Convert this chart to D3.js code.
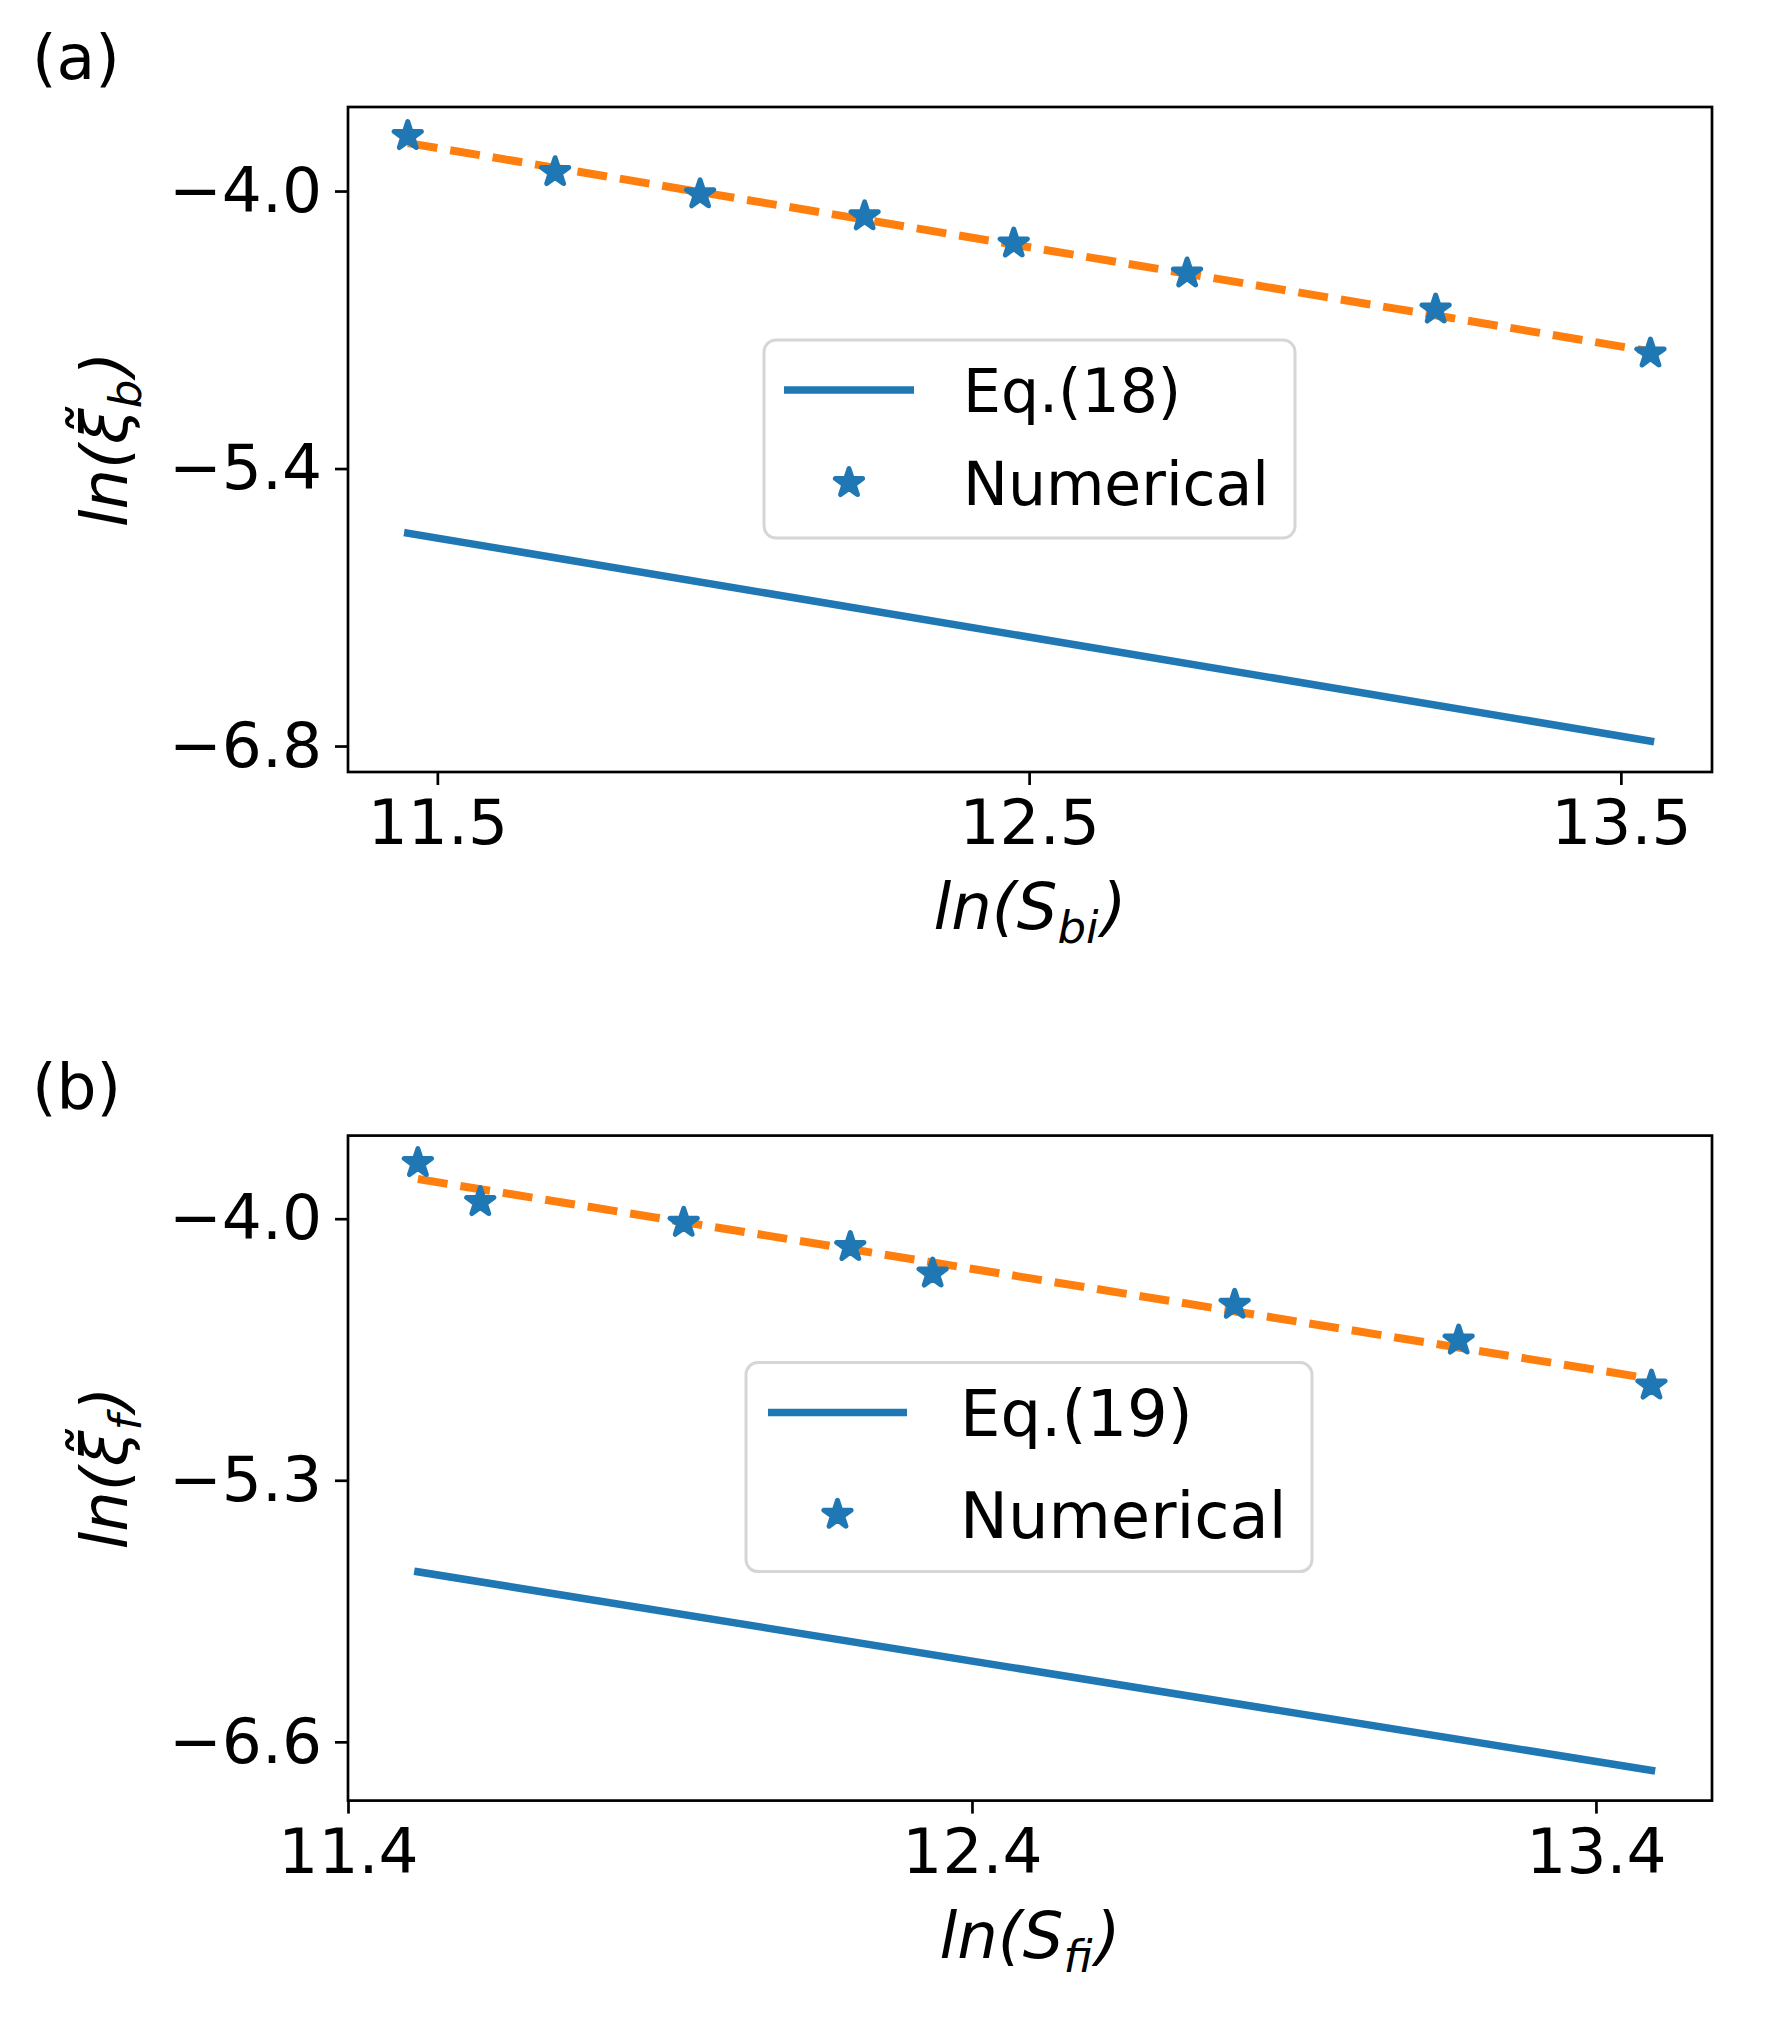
<!DOCTYPE html>
<html>
<head>
<meta charset="utf-8">
<script src="https://cdn.jsdelivr.net/npm/d3@7"></script>
<style>
  body { margin: 0; background: #ffffff; }
  text { font-family: "DejaVu Sans", sans-serif; fill: #000000; }
</style>
</head>
<body>
<div id="chart"></div>
<script>
'use strict';

// Panel (a)
const xTicksA = [11.5, 12.5, 13.5];
const yTicksA = [-4.0, -5.4, -6.8];
const numXA = [11.45, 11.699, 11.944, 12.222, 12.474, 12.767, 13.187, 13.55];
const numYA = [-3.722, -3.904, -4.016, -4.127, -4.264, -4.415, -4.597, -4.819];
const eqXA = [11.45, 13.55];
const eqYA = [-5.726, -6.775];
const fitXA = [11.45, 13.55];
const fitYA = [-3.758, -4.809];

// Panel (b)
const xTicksB = [11.4, 12.4, 13.4];
const yTicksB = [-4.0, -5.3, -6.6];
const numXB = [11.512, 11.612, 11.938, 12.205, 12.337, 12.821, 13.18, 13.489];
const numYB = [-3.723, -3.917, -4.020, -4.140, -4.272, -4.427, -4.605, -4.829];
const eqXB = [11.512, 13.489];
const eqYB = [-5.755, -6.742];
const fitXB = [11.512, 13.489];
const fitYB = [-3.803, -4.796];

const blue = "#1f77b4";
const orange = "#ff7f0e";

class Panel {
  constructor (svg, props) {
    this.svg = svg;
    this.props = props;
    this.left = 348;
    this.right = 1712;
    this.top = props.top;
    this.bottom = props.top + 665;
    this.tickFont = 63;
    this.starSize = 230;
  }

  render () {
    this.computeScaleFns();
    this.addLines();
    this.addStars();
    this.addFrame();
    this.addAxes();
    this.addLabels();
    this.addLegend();
  }

  computeScaleFns () {
    this.xScale = d3.scaleLinear()
      .domain(this.props.xDomain)
      .range([this.left, this.right]);
    this.yScale = d3.scaleLinear()
      .domain(this.props.yDomain)
      .range([this.bottom, this.top]);
  }

  addLines () {
    const p = this.props;
    const line = d3.line()
      .x(d => this.xScale(d[0]))
      .y(d => this.yScale(d[1]));

    // Eq. line, matplotlib projects its caps
    this.svg.append("path")
      .datum(d3.zip(p.eqX, p.eqY))
      .attr("d", line)
      .style("fill", "none")
      .style("stroke", blue)
      .style("stroke-width", 7.5)
      .style("stroke-linecap", "square");

    this.svg.append("path")
      .datum(d3.zip(p.fitX, p.fitY))
      .attr("d", line)
      .style("fill", "none")
      .style("stroke", orange)
      .style("stroke-width", 8)
      .style("stroke-dasharray", "30 13");
  }

  starPath (sel) {
    sel.attr("d", d3.symbol(d3.symbolStar, this.starSize))
      .style("fill", blue)
      .style("stroke", blue)
      .style("stroke-width", 5)
      .style("stroke-linejoin", "round");
  }

  addStars () {
    const p = this.props;
    this.svg.selectAll(null)
      .data(d3.zip(p.numX, p.numY))
      .enter().append("path")
      .attr("transform", d => `translate(${this.xScale(d[0])},${this.yScale(d[1])})`)
      .call(sel => this.starPath(sel));
  }

  addFrame () {
    this.svg.append("rect")
      .attr("x", this.left)
      .attr("y", this.top)
      .attr("width", this.right - this.left)
      .attr("height", this.bottom - this.top)
      .style("fill", "none")
      .style("stroke", "#000000")
      .style("stroke-width", 2.7);
  }

  addAxes () {
    const fmt = d => d3.format(".1f")(d).replace("-", "\u2212");

    const xAxis = this.svg.append("g")
      .attr("transform", `translate(0,${this.bottom})`)
      .call(d3.axisBottom(this.xScale)
        .tickValues(this.props.xTicks)
        .tickFormat(fmt)
        .tickSize(13)
        .tickPadding(13));

    const yAxis = this.svg.append("g")
      .attr("transform", `translate(${this.left},0)`)
      .call(d3.axisLeft(this.yScale)
        .tickValues(this.props.yTicks)
        .tickFormat(fmt)
        .tickSize(13)
        .tickPadding(13));

    [xAxis, yAxis].forEach(ax => {
      ax.select(".domain").remove();
      ax.selectAll(".tick line")
        .style("stroke", "#000000")
        .style("stroke-width", 2.7);
      ax.selectAll(".tick text")
        .style("font-size", this.tickFont + "px")
        .style("font-family", "DejaVu Sans")
        .attr("fill", "#000000");
    });
    xAxis.selectAll(".tick text").attr("dy", "0.73em");
  }

  addLabels () {
    const p = this.props;
    const cx = (this.left + this.right) / 2;
    const cy = (this.top + this.bottom) / 2;

    // Panel tag
    this.svg.append("text")
      .attr("x", 32)
      .attr("y", this.top - 28)
      .style("font-size", "63px")
      .text(p.tag);

    // X label
    const xl = this.svg.append("text")
      .attr("x", cx)
      .attr("y", this.bottom + 157)
      .attr("text-anchor", "middle")
      .style("font-size", "64px")
      .style("font-style", "italic");
    xl.append("tspan").text("ln(S");
    xl.append("tspan").attr("dy", 14).style("font-size", "45px").text(p.xSub);
    xl.append("tspan").attr("dy", -14).attr("dx", 3).text(")");

    // Y label
    const yl = this.svg.append("text")
      .attr("transform", `translate(127,${cy}) rotate(-90)`)
      .attr("text-anchor", "middle")
      .style("font-size", "64px")
      .style("font-style", "italic");
    yl.append("tspan").text("ln(\u03be\u0303");
    yl.append("tspan").attr("dy", 14).style("font-size", "45px").text(p.ySub);
    yl.append("tspan").attr("dy", -14).attr("dx", 3).text(")");
  }

  addLegend () {
    const lg = this.props.legend;
    const g = this.svg.append("g")
      .attr("transform", `translate(${lg.x},${this.top + lg.y})`);

    g.append("rect")
      .attr("width", lg.w)
      .attr("height", lg.h)
      .attr("rx", 12)
      .style("fill", "#ffffff")
      .style("fill-opacity", 0.8)
      .style("stroke", "#d6d6d6")
      .style("stroke-width", 3);

    g.append("line")
      .attr("x1", lg.handle[0])
      .attr("x2", lg.handle[1])
      .attr("y1", lg.row1)
      .attr("y2", lg.row1)
      .style("stroke", blue)
      .style("stroke-width", 7.5);

    g.append("path")
      .attr("transform", `translate(${(lg.handle[0] + lg.handle[1]) / 2},${lg.row2})`)
      .call(sel => this.starPath(sel));

    g.selectAll(".legendLabel")
      .data([lg.label, "Numerical"])
      .enter().append("text")
      .attr("class", "legendLabel")
      .attr("x", lg.textX)
      .attr("y", (d, i) => (i === 0 ? lg.row1 : lg.row2) + lg.font * 0.365)
      .style("font-size", lg.font + "px")
      .text(d => d);
  }
}

const svg = d3.select("#chart")
  .append("svg")
  .attr("width", 1770)
  .attr("height", 2029)
  .style("background", "#ffffff");

new Panel(svg, {
  tag: "(a)",
  top: 107,
  xDomain: [11.349, 13.654],
  yDomain: [-6.931, -3.576],
  xTicks: xTicksA,
  yTicks: yTicksA,
  numX: numXA, numY: numYA,
  eqX: eqXA, eqY: eqYA,
  fitX: fitXA, fitY: fitYA,
  xSub: "bi",
  ySub: "b",
  legend: { x: 764, y: 233, w: 531, h: 198, font: 60,
            handle: [20, 150], row1: 50, row2: 143, textX: 199, label: "Eq.(18)" }
}).render();

new Panel(svg, {
  tag: "(b)",
  top: 1135.6,
  xDomain: [11.400, 13.586],
  yDomain: [-6.892, -3.587],
  xTicks: xTicksB,
  yTicks: yTicksB,
  numX: numXB, numY: numYB,
  eqX: eqXB, eqY: eqYB,
  fitX: fitXB, fitY: fitYB,
  xSub: "fi",
  ySub: "f",
  legend: { x: 746, y: 227, w: 566, h: 209, font: 64,
            handle: [22, 161], row1: 50, row2: 152, textX: 214, label: "Eq.(19)" }
}).render();
</script>
</body>
</html>
